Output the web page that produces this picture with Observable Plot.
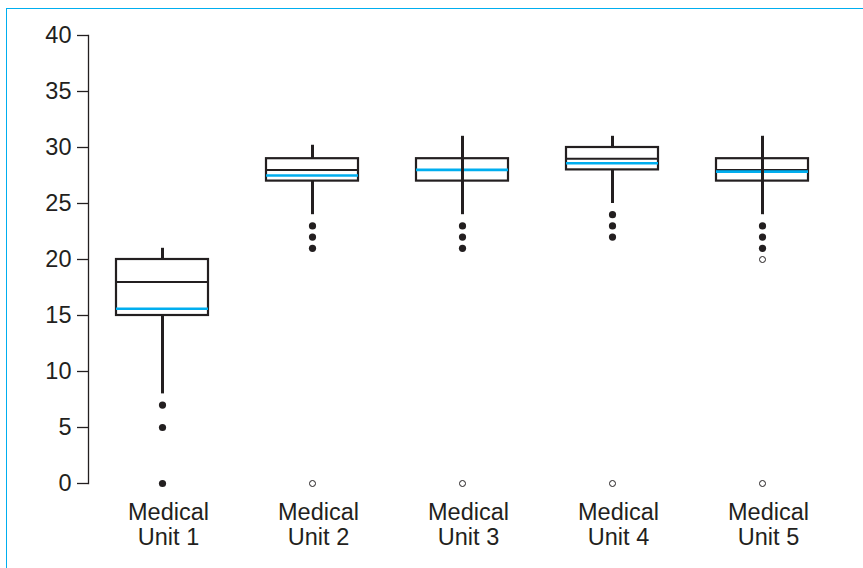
<!DOCTYPE html>
<html>
<head>
<meta charset="utf-8">
<script src="https://cdn.jsdelivr.net/npm/d3@7"></script>
<script src="https://cdn.jsdelivr.net/npm/@observablehq/plot@0.6"></script>
<style>
  html, body { margin: 0; padding: 0; background: #fff; }
  #wrap { position: relative; width: 863px; height: 568px; overflow: hidden; }
  #border { position: absolute; left: 6px; top: 8px; width: 900px; height: 600px;
            border-top: 1.5px solid #00aeef; border-left: 1.5px solid #00aeef; pointer-events: none; }
  #chart { position: absolute; left: 0; top: 0; }
</style>
</head>
<body>
<div id="wrap"><div id="border"></div><div id="chart"></div></div>
<script>
const units = ["Medical Unit 1", "Medical Unit 2", "Medical Unit 3", "Medical Unit 4", "Medical Unit 5"];
const unitLabels = ["Medical\nUnit 1", "Medical\nUnit 2", "Medical\nUnit 3", "Medical\nUnit 4", "Medical\nUnit 5"];
const whiskerLow = [8, 24, 24, 25, 24];
const q1 = [15, 27, 27, 28, 27];
const median = [18, 28, 28, 29, 28];
const mean = [15.6, 27.5, 28, 28.6, 27.85];
const q3 = [20, 29, 29, 30, 29];
const whiskerHigh = [21, 30.2, 31, 31, 31];
const whiskerThroughBox = ["Medical Unit 3", "Medical Unit 5"];
const outlierUnits = ["Medical Unit 1", "Medical Unit 1", "Medical Unit 1",
  "Medical Unit 2", "Medical Unit 2", "Medical Unit 2",
  "Medical Unit 3", "Medical Unit 3", "Medical Unit 3",
  "Medical Unit 4", "Medical Unit 4", "Medical Unit 4",
  "Medical Unit 5", "Medical Unit 5", "Medical Unit 5"];
const outlierValues = [7, 5, 0, 23, 22, 21, 23, 22, 21, 24, 23, 22, 23, 22, 21];
const extremeUnits = ["Medical Unit 2", "Medical Unit 3", "Medical Unit 4", "Medical Unit 5", "Medical Unit 5"];
const extremeValues = [0, 0, 0, 20, 0];
const yTicks = [0, 5, 10, 15, 20, 25, 30, 35, 40];

const boxes = units.map((u, i) => ({unit: u, lo: whiskerLow[i], q1: q1[i], med: median[i], mean: mean[i], q3: q3[i], hi: whiskerHigh[i]}));
const through = boxes.filter(d => whiskerThroughBox.includes(d.unit));
const outliers = outlierUnits.map((u, i) => ({unit: u, v: outlierValues[i]}));
const extremes = extremeUnits.map((u, i) => ({unit: u, v: extremeValues[i]}));
const labelOf = Object.fromEntries(units.map((u, i) => [u, unitLabels[i]]));

const ink = "#231f20";
const blue = "#00aeef";

const chart = Plot.plot({
  width: 863,
  height: 568,
  marginTop: 35,
  marginBottom: 85,
  marginLeft: 88,
  marginRight: 25,
  style: {fontFamily: "'Liberation Sans', Arial, Helvetica, sans-serif", fontSize: "23.5px", color: ink, background: "transparent"},
  x: {domain: units, range: [85.75, 838.25], paddingInner: 0.389, paddingOuter: 0.1945, axis: null},
  y: {domain: [0, 40], axis: null},
  marks: [
    Plot.frame({anchor: "left", stroke: ink, strokeWidth: 1.3}),
    Plot.axisY({ticks: yTicks, tickSize: 11, tickPadding: 6, fontSize: 23.5, stroke: ink, strokeWidth: 1.3, label: null}),
    Plot.axisX({tickSize: 0, tickPadding: 19, tickFormat: d => labelOf[d], lineHeight: 1.07, fontSize: 23.5, dx: 6, label: null}),
    Plot.ruleX(boxes, {x: "unit", y1: "lo", y2: "q1", stroke: ink, strokeWidth: 3}),
    Plot.ruleX(boxes, {x: "unit", y1: "q3", y2: "hi", stroke: ink, strokeWidth: 3}),
    Plot.barY(boxes, {x: "unit", y1: "q1", y2: "q3", fill: "none", stroke: ink, strokeWidth: 2.2}),
    Plot.tickY(boxes, {x: "unit", y: "med", stroke: ink, strokeWidth: 2}),
    Plot.tickY(boxes, {x: "unit", y: "mean", stroke: blue, strokeWidth: 2.6}),
    Plot.ruleX(through, {x: "unit", y1: "q1", y2: "q3", stroke: ink, strokeWidth: 3}),
    Plot.dot(outliers, {x: "unit", y: "v", r: 3.6, fill: ink, stroke: "none"}),
    Plot.dot(extremes, {x: "unit", y: "v", r: 3, fill: "white", stroke: ink, strokeWidth: 1})
  ]
});
document.getElementById("chart").appendChild(chart);
</script>
</body>
</html>
